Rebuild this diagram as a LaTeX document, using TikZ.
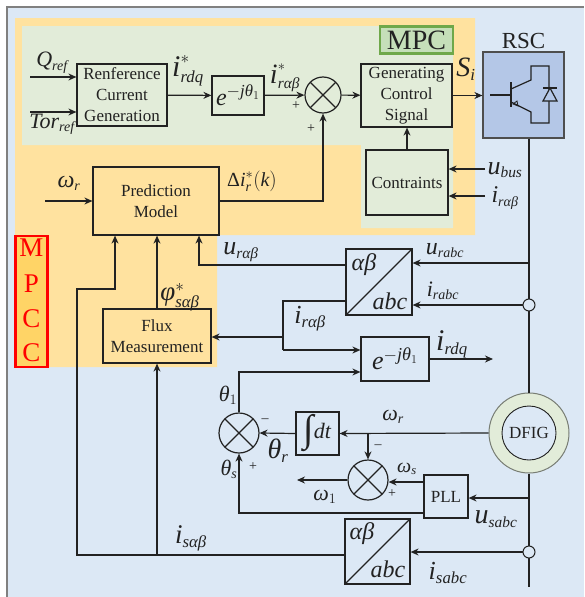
\documentclass[tikz,border=0pt]{standalone}
\usepackage{amsmath}
\usepackage{fontspec}
\setmainfont{Liberation Serif}
\usetikzlibrary{arrows.meta}
\definecolor{bgblue}{HTML}{DCE8F5}
\definecolor{mpccorange}{HTML}{FFE29F}
\definecolor{mpccdeep}{HTML}{FFD466}
\definecolor{mpcgreen}{HTML}{E2ECD9}
\definecolor{mpclabelfill}{HTML}{C5DFB9}
\definecolor{mpclabeledge}{HTML}{6FA84A}
\definecolor{rscblue}{HTML}{B4C7E7}
\definecolor{linedark}{HTML}{222222}
\newcommand{\tv}[1]{\text{\itshape #1}}
\newcommand{\bv}[2]{\text{\fontsize{#1}{#1}\selectfont\itshape #2}}
\tikzset{
	blockbox/.style={draw=linedark, line width=1.2pt, align=center, inner sep=0pt, font=\fontsize{17}{21}\selectfont},
	sumnode/.style={draw=linedark, line width=1.2pt, circle, inner sep=0pt, minimum size=#1,
		path picture={\draw[linedark, line width=1.2pt] (path picture bounding box.south west) -- (path picture bounding box.north east) (path picture bounding box.north west) -- (path picture bounding box.south east);}},
	convbox/.style={blockbox, minimum width=66pt, minimum height=66pt,
		path picture={\draw[linedark, line width=1.2pt] (path picture bounding box.south west) -- (path picture bounding box.north east);}},
	sensenode/.style={draw=linedark, line width=1pt, circle, fill=bgblue, inner sep=0pt, minimum size=12pt},
	biglabel/.style={inner sep=0pt, font=\fontsize{24}{28}\selectfont},
	midlabel/.style={inner sep=0pt, font=\fontsize{20}{24}\selectfont},
	smalllabel/.style={inner sep=0pt, font=\fontsize{14}{16}\selectfont},
	mpccletter/.style={red, inner sep=0pt, font=\fontsize{27}{30}\selectfont}
}
\begin{document}
\begin{tikzpicture}[x=1pt, y=-1pt, >={Stealth[length=8pt,width=7pt]}, line width=1.2pt, draw=linedark, text=linedark]
	\useasboundingbox (0,0) rectangle (584,597);
	\fill[bgblue] (7,7) rectangle (584,597);
	\draw[gray, line width=1.2pt] (7,597) -- (7,7) -- (584,7);
	\fill[mpccorange] (15,18) -| (475,235) -| (217,367) -| cycle;
	\fill[mpcgreen] (22,26) -| (453,228) -| (361,145) -| cycle;

	\node (mpclabel) [draw=mpclabeledge, line width=2.2pt, fill=mpclabelfill, minimum width=73pt, minimum height=27pt, inner sep=0pt, font=\fontsize{28}{30}\selectfont] at (416.5,40) {MPC};
	\node (mpcclabel) [draw=red, line width=2.4pt, fill=mpccdeep, minimum width=32pt, minimum height=131pt, inner sep=0pt] at (31.5,301.5) {};
	\node (mpccm) [mpccletter] at (31.5,248) {M};
	\node (mpccp) [mpccletter] at (31.5,284) {P};
	\node (mpcccone) [mpccletter] at (31.5,319) {C};
	\node (mpccctwo) [mpccletter] at (31.5,353) {C};

	\node (refgen) [blockbox, minimum width=90pt, minimum height=62pt] at (122,95) {Renference\\Current\\Generation};
	\node (erdq) [blockbox, minimum width=52pt, minimum height=39pt, font=\fontsize{24}{28}\selectfont] at (238,95.5) {$\tv{e}^{-\tv{j}\tv{θ}_1}$};
	\node (summpc) [sumnode=36pt] at (323,95) {};
	\node (gencontrol) [blockbox, minimum width=91pt, minimum height=63pt] at (406.5,95.5) {Generating\\Control\\Signal};
	\node (contraints) [blockbox, minimum width=82pt, minimum height=65pt] at (407,182.5) {Contraints};
	\node (predmodel) [blockbox, minimum width=126pt, minimum height=68pt] at (156,201) {Prediction\\Model};
	\node (fluxmeas) [blockbox, minimum width=108pt, minimum height=54pt] at (157,336) {Flux\\Measurement};
	\node (rsc) [draw=linedark!80, line width=1.2pt, fill=rscblue, minimum width=81pt, minimum height=86pt, inner sep=0pt] at (523.5,95) {};
	\node (rsclabel) [inner sep=0pt, font=\fontsize{23}{26}\selectfont] at (523.5,41) {RSC};

	\node (abcr) [convbox] at (379,282) {};
	\node (erdqout) [blockbox, minimum width=68pt, minimum height=44pt, font=\fontsize{26}{28}\selectfont] at (395,359) {$\tv{e}^{-\tv{j}\tv{θ}_1}$};
	\node (integ) [blockbox, minimum width=43pt, minimum height=43pt, font=\fontsize{22}{24}\selectfont] at (317.5,433.5) {\raisebox{-0.16em}{\fontsize{38}{38}\selectfont ∫}\textit{dt}};
	\node (sumtheta) [sumnode=40pt] at (239,433) {};
	\node (sumomega) [sumnode=40pt] at (368,480) {};
	\node (pll) [blockbox, minimum width=44pt, minimum height=43pt] at (446,496.5) {PLL};
	\node (abcs) [convbox, minimum width=65pt, minimum height=65pt] at (377.5,551.5) {};
	\node (dfigouter) [draw=linedark!55!mpcgreen, line width=1pt, circle, fill=mpcgreen, minimum size=80pt, inner sep=0pt] at (529,433) {};
	\node (dfig) [blockbox, circle, fill=bgblue, minimum size=54pt, line width=0.9pt] at (529,433) {DFIG};

	\node (abcrab) [midlabel, font=\fontsize{24}{28}\selectfont] at (364,265) {$\tv{αβ}$};
	\node (abcrc) [midlabel, font=\fontsize{24}{28}\selectfont] at (390,301) {\textit{abc}};
	\node (abcsab) [midlabel, font=\fontsize{24}{28}\selectfont] at (362,534) {$\tv{αβ}$};
	\node (abcsc) [midlabel, font=\fontsize{24}{28}\selectfont] at (388,569) {\textit{abc}};

	\coordinate (qrefin) at (30,77);
	\coordinate (torin) at (30,112);
	\coordinate (omegain) at (45,201);
	\coordinate (ubusin) at (485,169);
	\coordinate (irabin) at (485,196);
	\coordinate (busbot) at (529,587);
	\coordinate (urabctap) at (529,263);
	\coordinate (usabctap) at (529,498);
	\coordinate (isbus) at (77,555);
	\coordinate (iscorner) at (77,289);
	\coordinate (ispred) at (115,289);
	\coordinate (isflux) at (157,555);
	\coordinate (uralpha) at (199,265);
	\coordinate (iralpha) at (283,301);
	\coordinate (irbranch) at (283,337);
	\coordinate (irlow) at (283,350);
	\coordinate (thetaup) at (239,372);
	\coordinate (irdqout) at (493,359);
	\coordinate (omegatap) at (368,433);
	\coordinate (omegaone) at (297,480);
	\coordinate (thetas) at (239,513);
	\coordinate (omegasin) at (424,482);

	\draw (rsc.south -| dfig) -- (dfigouter.north);
	\draw (dfigouter.south) -- (busbot);
	\node (senser) [sensenode] at (529,305) {};
	\node (senses) [sensenode] at (529,552) {};

	\draw[->] (qrefin) -- (refgen.west |- qrefin);
	\draw[->] (torin) -- (refgen.west |- torin);
	\draw[->] (refgen) -- (erdq);
	\draw[->] (erdq) -- (summpc);
	\draw[->] (summpc) -- (gencontrol);
	\draw[->] (gencontrol.east) -- (rsc.west |- gencontrol.east);
	\draw[->] (contraints.north) -- (gencontrol.south -| contraints.north);
	\draw[->] (ubusin) -- (contraints.east |- ubusin);
	\draw[->] (irabin) -- (contraints.east |- irabin);
	\draw[->] (omegain) -- (predmodel.west);
	\draw[->] (predmodel.east) -| (summpc.south);
	\draw[->] (abcs.west |- isbus) -- (isbus) -- (iscorner) -- (ispred) -- (predmodel.south -| ispred);
	\draw[->] (isflux) -- (fluxmeas.south);
	\draw[->] (fluxmeas.north) -- (predmodel.south -| fluxmeas.north);
	\draw[->] (abcr.west |- uralpha) -- (uralpha) -- (predmodel.south -| uralpha);
	\draw (abcr.west |- iralpha) -- (iralpha) -- (irlow);
	\draw[->] (irbranch) -- (fluxmeas.east |- irbranch);
	\draw[->] (irlow) -- (erdqout.west |- irlow);
	\draw[->] (sumtheta.north) -- (thetaup) -- (erdqout.west |- thetaup);
	\draw[->] (erdqout.east) -- (irdqout);
	\draw[->] (urabctap) -- (abcr.east |- urabctap);
	\draw[->] (senser) -- (abcr.east |- senser);
	\draw[->] (dfigouter.west) -- (integ.east);
	\draw[->] (omegatap) -- (sumomega.north);
	\draw[->] (integ.west) -- (sumtheta.east);
	\draw[->] (pll.west |- thetas) -- (thetas) -- (sumtheta.south);
	\draw[->] (sumomega.west) -- (omegaone);
	\draw[->] (omegasin) -- (sumomega.east |- omegasin);
	\draw[->] (usabctap) -- (pll.east |- usabctap);
	\draw[->] (senses) -- (abcs.east |- senses);

	\node (qreflabel) [midlabel] at (52,63) {$\bv{22}{Q}_{\tv{ref}}$};
	\node (torlabel) [midlabel] at (52,124) {$\bv{22}{Tor}_{\tv{ref}}$};
	\node (irdqlabel) [biglabel] at (188,71) {$\bv{30}{i}_{\tv{rdq}}^{*}$};
	\node (iralabel) [biglabel, font=\fontsize{22}{26}\selectfont] at (285,78) {$\bv{28}{i}_{\tv{rαβ}}^{*}$};
	\node (silabel) [biglabel] at (466,69) {$\bv{28}{S}_{\tv{i}}$};
	\node (ubuslabel) [midlabel, font=\fontsize{22}{26}\selectfont] at (505,170) {$\bv{26}{u}_{\tv{bus}}$};
	\node (iralabelb) [midlabel] at (505,198) {$\bv{24}{i}_{\tv{rαβ}}$};
	\node (omegalabel) [midlabel] at (69,183) {$\bv{24}{ω}_{\tv{r}}$};
	\node (deltalabel) [midlabel] at (252,181) {$\text{Δ}\tv{i}_{\tv{r}}^{*}(\tv{k})$};
	\node (urablabel) [midlabel, font=\fontsize{22}{26}\selectfont] at (241,252) {$\bv{26}{u}_{\tv{rαβ}}$};
	\node (philabel) [biglabel] at (180,297) {$\bv{27}{φ}_{\tv{sαβ}}^{*}$};
	\node (isablabel) [biglabel] at (191,538) {$\bv{27}{i}_{\tv{sαβ}}$};
	\node (urabclabel) [midlabel] at (445,251) {$\bv{24}{u}_{\tv{rabc}}$};
	\node (irabclabel) [midlabel] at (443,291) {$\bv{22}{i}_{\tv{rabc}}$};
	\node (iralabelc) [biglabel] at (310,319) {$\bv{26}{i}_{\tv{rαβ}}$};
	\node (irdqlabelb) [biglabel] at (452,344) {$\bv{30}{i}_{\tv{rdq}}$};
	\node (theta1label) [midlabel] at (228,395) {$\bv{22}{θ}_{1}$};
	\node (thetarlabel) [biglabel] at (278,451) {$\bv{28}{θ}_{\tv{r}}$};
	\node (thetaslabel) [midlabel] at (229,469) {$\bv{22}{θ}_{\tv{s}}$};
	\node (omegarlabel) [midlabel] at (393,417) {$\bv{22}{ω}_{\tv{r}}$};
	\node (omegaslabel) [midlabel, font=\fontsize{18}{22}\selectfont] at (407,469) {$\bv{20}{ω}_{\tv{s}}$};
	\node (omega1label) [midlabel] at (325,497) {$\bv{22}{ω}_{1}$};
	\node (usabclabel) [midlabel, font=\fontsize{22}{26}\selectfont] at (496,519) {$\bv{28}{u}_{\tv{sabc}}$};
	\node (isabclabel) [biglabel] at (448,573) {$\bv{26}{i}_{\tv{sabc}}$};

	\node (plusa) [smalllabel] at (296,106) {+};
	\node (plusb) [smalllabel] at (311,129) {+};
	\node (plusc) [smalllabel] at (253,467) {+};
	\node (plusd) [smalllabel] at (392,494) {+};
	\node (minusa) [smalllabel] at (265,421) {–};
	\node (minusb) [smalllabel] at (378,447) {–};

	\draw (490,95) -- (511,95);
	\draw (511,82) -- (511,107);
	\draw (511,89) -- (531,80) -- (531,66) -- (549,66) -- (549,123) -- (531,123) -- (531,112) -- (511,102);
	\draw[line width=0.8pt] (513,104) -- (517,101) -- (518,106) -- cycle;
	\draw[fill=rscblue] (543,101) -- (557,101) -- (550,88) -- cycle;
	\draw (543,88) -- (557,88);
\end{tikzpicture}
\end{document}
